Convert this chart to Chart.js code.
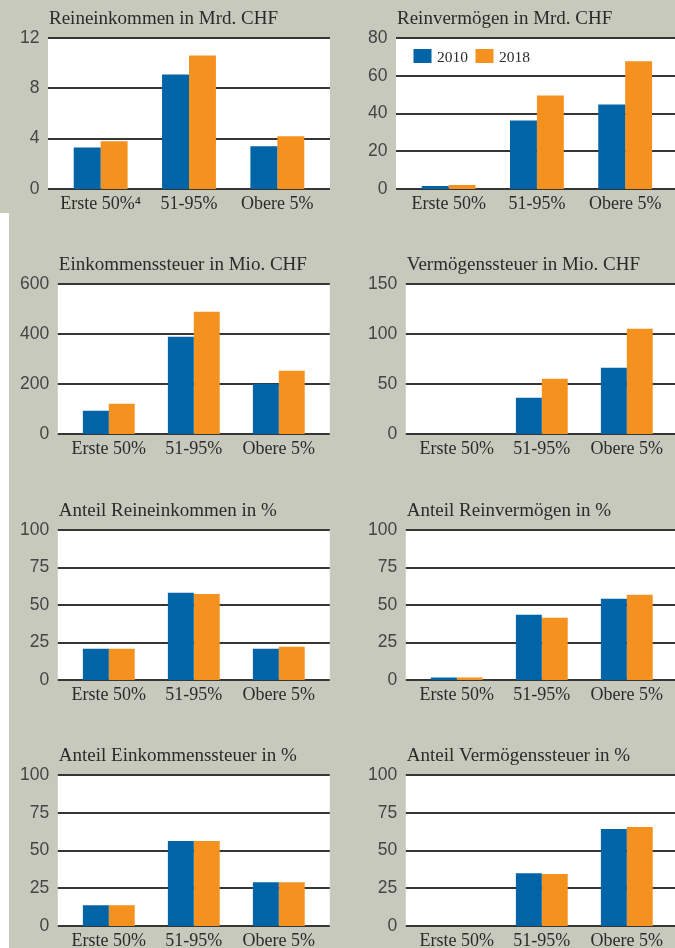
<!DOCTYPE html>
<html>
<head>
<meta charset="utf-8">
<title>Einkommen und Vermögen</title>
<script src="https://cdn.jsdelivr.net/npm/chart.js@4/dist/chart.umd.min.js"></script>
<style>
  body { margin: 0; width: 675px; height: 948px; overflow: hidden; position: relative; background: #c7c9bd; }
  #streifen { position: absolute; left: 0; top: 213px; width: 9px; height: 735px; background: #fff; }
  canvas { position: absolute; }
</style>
</head>
<body>
<div id="streifen"></div>
<canvas id="c1" width="335" height="219" style="left:0;top:0"></canvas>
<canvas id="c2" width="340" height="219" style="left:335px;top:0"></canvas>
<canvas id="c3" width="335" height="218" style="left:0;top:246px"></canvas>
<canvas id="c4" width="340" height="218" style="left:335px;top:246px"></canvas>
<canvas id="c5" width="335" height="218" style="left:0;top:492px"></canvas>
<canvas id="c6" width="340" height="218" style="left:335px;top:492px"></canvas>
<canvas id="c7" width="335" height="219" style="left:0;top:737px"></canvas>
<canvas id="c8" width="340" height="219" style="left:335px;top:737px"></canvas>
<script>
// Daten
const kategorien = ["Erste 50%", "51-95%", "Obere 5%"];
const kategorienFussnote = ["Erste 50%\u2074", "51-95%", "Obere 5%"];
const jahre = ["2010", "2018"];

const reineinkommen2010 = [3.3, 9.1, 3.4];
const reineinkommen2018 = [3.8, 10.6, 4.2];
const reinvermoegen2010 = [1.6, 36.3, 44.8];
const reinvermoegen2018 = [2.1, 49.6, 67.7];
const einkSteuer2010 = [93, 389, 201];
const einkSteuer2018 = [121, 489, 253];
const vermSteuer2010 = [0, 36.3, 66.3];
const vermSteuer2018 = [0, 55.3, 105.3];
const anteilEink2010 = [20.8, 58.1, 20.8];
const anteilEink2018 = [20.8, 57.4, 22.2];
const anteilVerm2010 = [1.6, 43.5, 54.1];
const anteilVerm2018 = [1.6, 41.5, 56.8];
const anteilEinkSt2010 = [13.7, 56.3, 29.0];
const anteilEinkSt2018 = [13.7, 56.3, 29.0];
const anteilVermSt2010 = [0, 35.0, 64.3];
const anteilVermSt2018 = [0, 34.4, 65.6];

const blau = "#0064a7";
const orange = "#f5921f";
const serif = '"Liberation Serif", "Times New Roman", serif';
const sans = '"Liberation Sans", Arial, sans-serif';

// weisse Fläche, Gitterlinien und Titel (etwas breiter als die Kategorien)
const fondoPlot = {
  id: 'fondoPlot',
  beforeDraw(chart, args, opts) {
    const ctx = chart.ctx, a = chart.chartArea, y = chart.scales.y;
    const l = a.left - 8.5, r = a.right + 8.5;
    ctx.save();
    ctx.fillStyle = '#fff';
    ctx.fillRect(l, a.top, r - l, a.bottom - a.top);
    ctx.strokeStyle = '#363636';
    ctx.lineWidth = 2;
    y.ticks.forEach(t => {
      const py = Math.round(y.getPixelForValue(t.value));
      ctx.beginPath();
      ctx.moveTo(l, py);
      ctx.lineTo(r, py);
      ctx.stroke();
    });
    ctx.fillStyle = '#2b2b2b';
    ctx.font = '19px ' + serif;
    ctx.textBaseline = 'alphabetic';
    ctx.fillText(opts.titel, l + 1, a.top - 14);
    ctx.restore();
  }
};

const legende = {
  id: 'legende',
  afterDatasetsDraw(chart) {
    const ctx = chart.ctx, a = chart.chartArea;
    let x = a.left + 9;
    const y = a.top + 11;
    ctx.save();
    ctx.font = '15.5px ' + serif;
    ctx.textBaseline = 'alphabetic';
    chart.data.datasets.forEach(ds => {
      ctx.fillStyle = ds.backgroundColor;
      ctx.fillRect(x, y, 18, 14);
      ctx.fillStyle = '#2b2b2b';
      ctx.fillText(ds.label, x + 23.5, y + 12.7);
      x += 62;
    });
    ctx.restore();
  }
};

function balken(id, titel, labels, d2010, d2018, max, step, links, rechts, extra) {
  new Chart(id, {
    type: 'bar',
    data: {
      labels: labels,
      datasets: [
        { label: jahre[0], data: d2010, backgroundColor: blau, categoryPercentage: 0.61, barPercentage: 1 },
        { label: jahre[1], data: d2018, backgroundColor: orange, categoryPercentage: 0.61, barPercentage: 1 }
      ]
    },
    options: {
      responsive: false,
      animation: false,
      layout: { padding: { top: 38, left: 0, right: rechts, bottom: 0 } },
      plugins: {
        legend: { display: false },
        tooltip: { enabled: false },
        fondoPlot: { titel: titel }
      },
      scales: {
        x: {
          grid: { display: false, drawTicks: false },
          border: { display: false },
          ticks: { color: '#2b2b2b', font: { family: serif, size: 18 }, padding: 4, maxRotation: 0 },
          afterFit(s) { s.height = 30; }
        },
        y: {
          min: 0,
          max: max,
          grid: { display: false, drawTicks: false },
          border: { display: false },
          ticks: { stepSize: step, color: '#454545', font: { family: sans, size: 17.5 }, padding: 17 },
          afterFit(s) { s.width = links; }
        }
      }
    },
    plugins: [fondoPlot].concat(extra || [])
  });
}

balken('c1', 'Reineinkommen in Mrd. CHF', kategorienFussnote, reineinkommen2010, reineinkommen2018, 12, 4, 56.5, 13.5);
balken('c2', 'Reinvermögen in Mrd. CHF', kategorien, reinvermoegen2010, reinvermoegen2018, 80, 20, 69.5, 5.7, [legende]);
balken('c3', 'Einkommenssteuer in Mio. CHF', kategorien, einkSteuer2010, einkSteuer2018, 600, 200, 66.3, 13.7);
balken('c4', 'Vermögenssteuer in Mio. CHF', kategorien, vermSteuer2010, vermSteuer2018, 150, 50, 79.3, 5.7);
balken('c5', 'Anteil Reineinkommen in %', kategorien, anteilEink2010, anteilEink2018, 100, 25, 66.3, 13.7);
balken('c6', 'Anteil Reinvermögen in %', kategorien, anteilVerm2010, anteilVerm2018, 100, 25, 79.3, 5.7);
balken('c7', 'Anteil Einkommenssteuer in %', kategorien, anteilEinkSt2010, anteilEinkSt2018, 100, 25, 66.3, 13.7);
balken('c8', 'Anteil Vermögenssteuer in %', kategorien, anteilVermSt2010, anteilVermSt2018, 100, 25, 79.3, 5.7);
</script>
</body>
</html>
